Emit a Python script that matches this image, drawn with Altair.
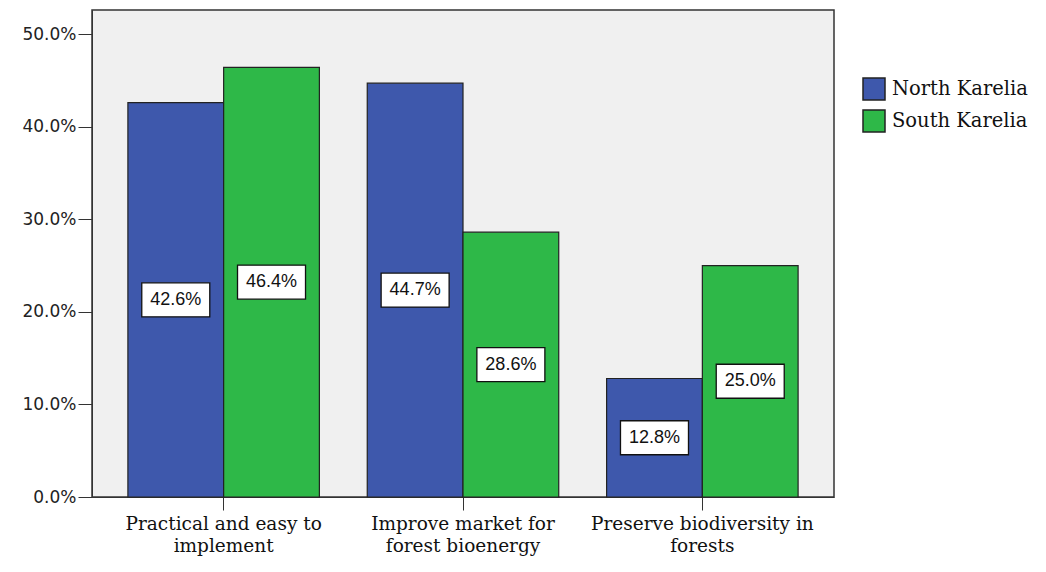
import altair as alt
import pandas as pd

categories = ["Practical and easy to implement", "Improve market for forest bioenergy", "Preserve biodiversity in forests"]
category_lines = [["Practical and easy to", "implement"], ["Improve market for", "forest bioenergy"], ["Preserve biodiversity in", "forests"]]
series = ["North Karelia", "South Karelia"]
north = [42.6, 44.7, 12.8]
south = [46.4, 28.6, 25.0]
y_ticks = [0, 10, 20, 30, 40, 50]

rows = []
for i, c in enumerate(categories):
    for s, vals in zip(series, [north, south]):
        v = vals[i]
        rows.append({"cat": c, "series": s, "value": v, "half": v / 2, "label": f"{v:.1f}%"})
df = pd.DataFrame(rows)

label_map = " : ".join([f"datum.value == '{c}' ? {l!r}" for c, l in zip(categories, category_lines)]) + " : datum.value"

x = alt.X("cat:N", sort=categories, title=None,
          scale=alt.Scale(paddingInner=0.2, paddingOuter=0.15),
          axis=alt.Axis(labelAngle=0, labelExpr=label_map, labelFont="DejaVu Serif", labelFontSize=18.5,
                        labelColor="#111", tickColor="#333", tickSize=13, domainColor="#333",
                        labelPadding=4, labelLineHeight=22, labelLimit=400))
xo = alt.XOffset("series:N", sort=series, scale=alt.Scale(paddingInner=0, paddingOuter=0))
color = alt.Color("series:N", sort=series, title=None,
                  scale=alt.Scale(domain=series, range=["#3E58AC", "#2EB848"]),
                  legend=alt.Legend(orient="none", legendX=770, legendY=67, labelFont="DejaVu Serif",
                                    labelFontSize=19.5, labelColor="#111", symbolType="square", symbolSize=484,
                                    symbolStrokeColor="#222", symbolStrokeWidth=1.5, rowPadding=4,
                                    symbolOpacity=1, labelOffset=6, labelLimit=300))

bars = alt.Chart(df).mark_bar(stroke="#222", strokeWidth=1.2, opacity=1).encode(
    x=x, xOffset=xo,
    y=alt.Y("value:Q", title=None, scale=alt.Scale(domain=[0, 52.6], nice=False),
            axis=alt.Axis(values=y_ticks, labelExpr="format(datum.value, '.1f') + '%'", grid=False,
                          labelFont="DejaVu Sans", labelFontSize=17, labelColor="#222",
                          tickColor="#333", tickSize=14, domainColor="#333", labelPadding=2)),
    color=color,
)

boxes = alt.Chart(df).mark_point(shape="M-1,-0.5H1V0.5H-1Z", filled=True, fill="white",
                                 stroke="#111", strokeWidth=1.3, size=4624, opacity=1, strokeOpacity=1).encode(
    x=x, xOffset=xo, y=alt.Y("half:Q"),
)

texts = alt.Chart(df).mark_text(font="Liberation Sans", fontSize=18, color="#111").encode(
    x=x, xOffset=xo, y=alt.Y("half:Q"), text="label:N",
)

chart = (bars + boxes + texts).properties(
    width=742, height=487,
    padding={"left": 13, "top": 2, "right": 5, "bottom": 6},
).configure(
    background="white",
    view=alt.ViewConfig(fill="#F0F0F0", stroke="#333", strokeWidth=1.5),
)

chart.save("out.html", embed_options={"renderer": "svg", "actions": False})
